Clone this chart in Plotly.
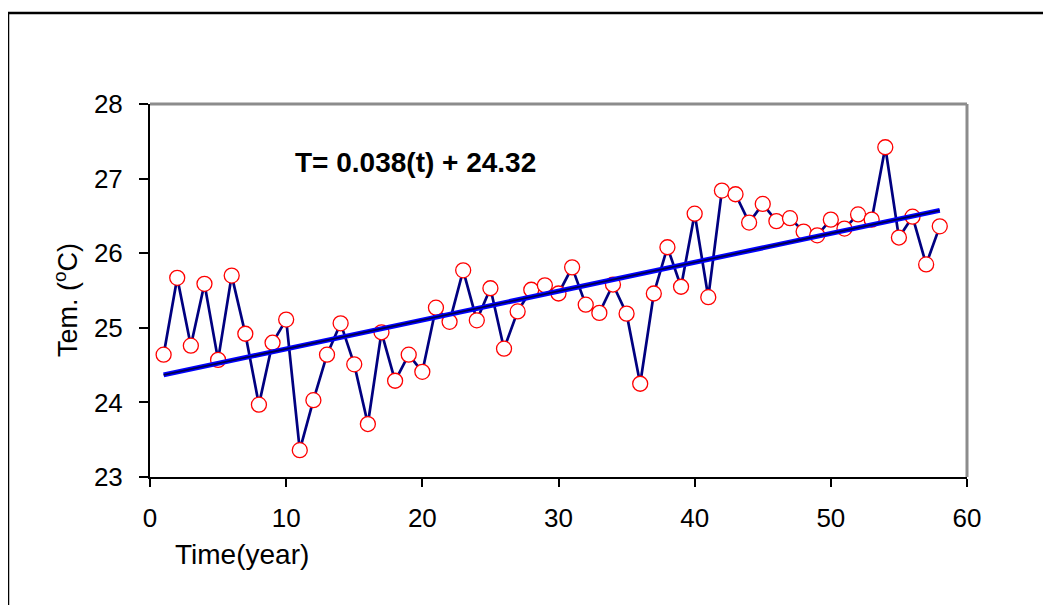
import plotly.graph_objects as go

years = list(range(1, 59))
temps = [24.64, 25.67, 24.76, 25.59, 24.57, 25.70, 24.92, 23.97, 24.80, 25.11,
         23.36, 24.03, 24.64, 25.06, 24.51, 23.71, 24.94, 24.29, 24.64, 24.41,
         25.27, 25.08, 25.77, 25.10, 25.53, 24.72, 25.22, 25.51, 25.57, 25.46,
         25.81, 25.31, 25.20, 25.58, 25.19, 24.25, 25.46, 26.08, 25.55, 26.53,
         25.41, 26.84, 26.79, 26.41, 26.66, 26.43, 26.47, 26.29, 26.24, 26.45,
         26.33, 26.52, 26.45, 27.42, 26.21, 26.49, 25.85, 26.36]

trend_slope = 0.0387
trend_intercept = 24.33
equation_text = "T= 0.038(t) + 24.32"
x_ticks = [0, 10, 20, 30, 40, 50, 60]
y_ticks = [23, 24, 25, 26, 27, 28]

trend_x = [years[0], years[-1]]
trend_y = [trend_slope * t + trend_intercept for t in trend_x]

FONT = "Liberation Sans, Arial, sans-serif"

# page body has an 8px margin; work in target-page pixels and shift
OFF = 8
W, H = 1051 - OFF, 605 - OFF
PL, PR, PT, PB = 150, 967, 104, 477          # plot area in page pixels
L = PL - OFF
T = PT - OFF
R = W - (PR - OFF)
B = H - (PB - OFF)
pw = PR - PL
ph = PB - PT

def px_x(px):
    return (px - PL) / pw

def px_y(py):
    return (PB - py) / ph

fig = go.Figure()
fig.add_trace(go.Scatter(
    x=years, y=temps, mode="lines+markers",
    line=dict(color="#000080", width=2.7),
    marker=dict(symbol="circle", size=15, color="white",
                line=dict(color="#FF0000", width=1.3)),
    showlegend=False, cliponaxis=False,
))
fig.add_trace(go.Scatter(
    x=trend_x, y=trend_y, mode="lines",
    line=dict(color="#0000FF", width=5),
    showlegend=False,
))
fig.add_trace(go.Scatter(
    x=trend_x, y=trend_y, mode="lines",
    line=dict(color="#000050", width=1.8),
    showlegend=False,
))

fig.update_layout(
    width=W, height=H,
    margin=dict(l=L, r=R, t=T, b=B, pad=0),
    paper_bgcolor="white", plot_bgcolor="white",
    font=dict(family=FONT, color="black", size=20),
    xaxis=dict(range=[0, 60], tickvals=x_ticks, showgrid=False, zeroline=False,
               showline=True, linecolor="black", linewidth=2,
               ticks="outside", ticklen=8, tickwidth=1.5, tickcolor="black",
               tickfont=dict(size=26, family=FONT), ticklabelstandoff=9),
    yaxis=dict(range=[23, 28], tickvals=y_ticks, showgrid=False, zeroline=False,
               showline=True, linecolor="black", linewidth=2,
               ticks="outside", ticklen=9, tickwidth=1.5, tickcolor="black",
               tickfont=dict(size=26, family=FONT), ticklabelstandoff=11),
    shapes=[
        dict(type="line", xref="paper", yref="paper", x0=0, x1=1, y0=1, y1=1,
             line=dict(color="#8c8c8c", width=3), layer="below"),
        dict(type="line", xref="paper", yref="paper", x0=1, x1=1, y0=0, y1=1,
             line=dict(color="#8c8c8c", width=3), layer="below"),
        dict(type="line", xref="paper", yref="paper",
             x0=px_x(8), x1=px_x(1060), y0=px_y(13), y1=px_y(13),
             line=dict(color="black", width=2.5)),
        dict(type="line", xref="paper", yref="paper",
             x0=px_x(8), x1=px_x(8), y0=px_y(13), y1=px_y(620),
             line=dict(color="black", width=2.5)),
    ],
    annotations=[
        dict(text="<b>" + equation_text + "</b>", xref="paper", yref="paper",
             x=px_x(415), y=px_y(162), showarrow=False,
             font=dict(size=28, family=FONT, color="black"),
             xanchor="center", yanchor="middle"),
        dict(text="Time(year)", xref="paper", yref="paper",
             x=px_x(242), y=px_y(554), showarrow=False,
             font=dict(size=28, family=FONT, color="black"),
             xanchor="center", yanchor="middle"),
        dict(text="Tem. (<sup>o</sup>C)", xref="paper", yref="paper",
             x=px_x(66), y=px_y(300), showarrow=False, textangle=-90,
             font=dict(size=27, family=FONT, color="black"),
             xanchor="center", yanchor="middle"),
    ],
)

fig.write_html("out.html")
